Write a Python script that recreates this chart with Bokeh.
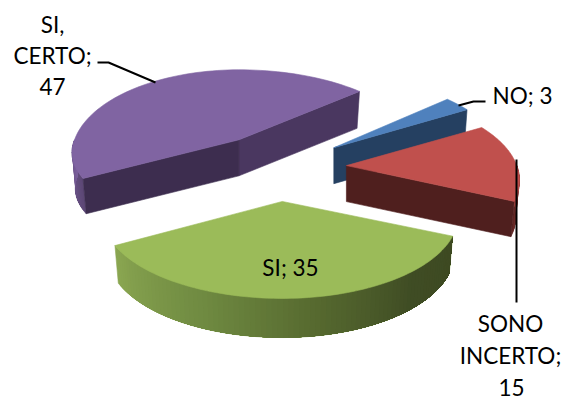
import numpy as np
from bokeh.plotting import figure
from bokeh.core.properties import value
from bokeh.embed import file_html
from bokeh.resources import INLINE

categories = ["NO", "SONO INCERTO", "SI", "SI, CERTO"]
values = [3, 15, 35, 47]
label_lines = [["NO; 3"], ["SONO", "INCERTO;", "15"], ["SI; 35"], ["SI,", "CERTO;", "47"]]
label_xy = [[(522, 95)], [(510, 323), (510, 355), (511, 387)], [(290, 267)], [(52, 24), (52, 55), (52, 86)]]
top_colors = ["#4F81BD", "#C0504D", "#9BBB59", "#8064A2"]
face_colors = [["#254061"], ["#4F1F1E"], [], ["#4A3760", "#3D2D4F"]]

START = 49.0
CX, CY, EA, EB = 278.0, 167.0, 68.0, 34.0
A, B, K = 173.0, 82.4, 0.176
DEPTH = 36.0
SHRINK = 0.98

p = figure(width=577, height=403, x_range=(0, 577), y_range=(403, 0),
           toolbar_location=None, output_backend="svg", min_border=0)
p.axis.visible = False
p.grid.visible = False
p.outline_line_color = None


def pt(th, apex, low=False, xl=1.0, xr=1.0, yf=1.0, gain=0.0):
    t = np.radians(th)
    X, Y = np.sin(t), np.cos(t)
    w = 1 + K * Y
    s = SHRINK if low else 1.0
    xs = xl if X < 0 else xr
    ys = yf if Y < 0 else 1.0
    d = DEPTH * (1 + gain * max(-Y, 0)) if low else 0
    return (apex[0] + xs * s * A * X / w, apex[1] - ys * s * B * Y / w + d)


def mix(c1, c2, f):
    a = [int(c1[i:i + 2], 16) for i in (1, 3, 5)]
    b = [int(c2[i:i + 2], 16) for i in (1, 3, 5)]
    return "#%02x%02x%02x" % tuple(int(round(u + (v - u) * f)) for u, v in zip(a, b))


total = sum(values)
bounds = START + np.concatenate([[0], np.cumsum(values)]) * 360.0 / total
slices = []
for i in range(len(values)):
    t0, t1 = bounds[i], bounds[i + 1]
    mid = np.radians((t0 + t1) / 2)
    apex = (CX + EA * np.sin(mid), CY - EB * np.cos(mid))
    slices.append((t0, t1, apex))


def poly(points, color, line=True):
    xs, ys = zip(*points)
    p.patch(list(xs), list(ys), fill_color=color,
            line_color=color if line else None, line_width=0.6)


def face(apex, th, color, **kw):
    lo = (apex[0], apex[1] + DEPTH)
    poly([apex, pt(th, apex, **kw), pt(th, apex, True, **kw), lo], color)


def rim(apex, a0, a1, stops, **kw):
    # painted front to back, each band reaching the far end, so no seams show
    n = max(int(abs(a1 - a0) / 1.5), 2)
    grid = np.linspace(a0, a1, n + 1)
    for j in range(n):
        f = j / (n - 1)
        color = stops[-1][1]
        for (f0, k0), (f1, k1) in zip(stops[:-1], stops[1:]):
            if f0 <= f <= f1:
                color = mix(k0, k1, (f - f0) / (f1 - f0))
                break
        arc = np.linspace(grid[j], a1, max(int(abs(a1 - grid[j])), 2))
        poly([pt(a, apex, **kw) for a in arc] +
             [pt(a, apex, True, **kw) for a in arc[::-1]], color, line=j == 0)


def top(i, **kw):
    t0, t1, apex = slices[i]
    pts = [apex] + [pt(a, apex, **kw) for a in np.linspace(t0, t1, 80)]
    poly(pts, top_colors[i])


# purple (back)
pk = dict(xl=0.95, xr=1.03, yf=0.85)
t0, t1, apex = slices[3]
rim(apex, t0, 270, [(0, "#5C4775"), (1, "#7A5F9B")], **pk)
face(apex, t1, face_colors[3][0], **pk)
face(apex, t0, face_colors[3][1], **pk)
top(3, **pk)
# blue
bk = dict(xr=0.97)
t0, t1, apex = slices[0]
face(apex, t1, face_colors[0][0], **bk)
top(0, **bk)
# red
rk = dict(xr=0.985)
t0, t1, apex = slices[1]
rim(apex, t1, 90, [(0, "#5E2523"), (0.6, "#8C3A37"), (1, "#BC4F4B")], **rk)
face(apex, t1, face_colors[1][0], **rk)
top(1, **rk)
# green (front)
gk = dict(xl=1.02, yf=0.97, gain=0.14)
t0, t1, apex = slices[2]
rim(apex, t1, t0, [(0, "#8AA651"), (0.3, "#6F8A41"), (0.55, "#56692F"), (0.8, "#3F4C24"), (1, "#3E4A22")], **gk)
top(2, **gk)

# leader lines
for lx, ly in [([97, 108, 155], [62, 62, 82]),
               ([458, 473, 485], [105, 101, 101]),
               ([516, 516], [159, 302])]:
    p.line(lx, ly, line_color="black", line_width=2)

for lines, xy in zip(label_lines, label_xy):
    for s, (x, y) in zip(lines, xy):
        p.text([x], [y], text=[s], text_font=value("Lato"), text_font_size="22.5px",
               text_align="center", text_baseline="middle", text_color="black")

open("out.html", "w").write(file_html(p, INLINE))
